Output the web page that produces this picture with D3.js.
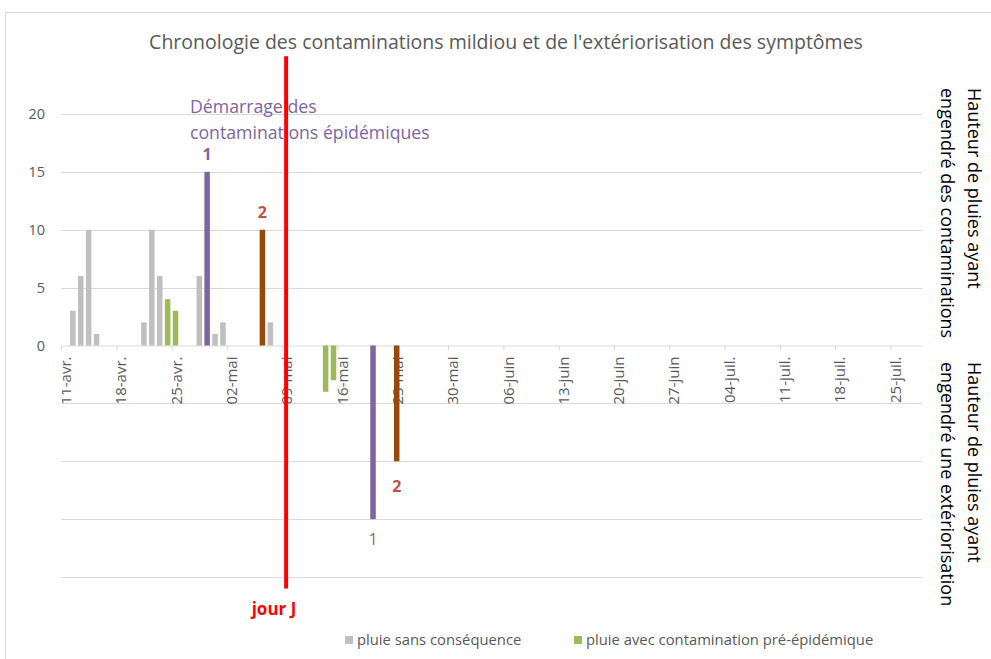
<!DOCTYPE html>
<html>
<head>
<meta charset="utf-8">
<script src="https://cdn.jsdelivr.net/npm/d3@7"></script>
<style>
  body { margin: 0; background: #fff; }
  svg { font-family: "Open Sans", sans-serif; }
</style>
</head>
<body>
<svg id="chart" width="991" height="659"></svg>
<script>
// rain events (mm) - positive = rain that caused a contamination, negative = rain that triggered the symptoms
var greyDates = ["2021-04-12", "2021-04-13", "2021-04-14", "2021-04-15", "2021-04-21", "2021-04-22", "2021-04-23", "2021-04-28", "2021-04-30", "2021-05-01", "2021-05-07"];
var greyValues = [3, 6, 10, 1, 2, 10, 6, 6, 1, 2, 2];
var greenDates = ["2021-04-24", "2021-04-25"];
var greenValues = [4, 3];
var greenExtDates = ["2021-05-14", "2021-05-15"];
var greenExtValues = [-4, -3];
var epiLabels = ["1", "2"];
var epiDates = ["2021-04-29", "2021-05-06"];
var epiValues = [15, 10];
var extDates = ["2021-05-20", "2021-05-23"];
var extValues = [-15, -10];
var jourJDate = "2021-05-09";
var jourJRange = [25, -21];
var tickLabels = ["11-avr.", "18-avr.", "25-avr.", "02-mai", "09-mai", "16-mai", "23-mai", "30-mai", "06-juin", "13-juin", "20-juin", "27-juin", "04-juil.", "11-juil.", "18-juil.", "25-juil."];
var yTicks = [0, 5, 10, 15, 20];
var yGrid = [-20, -15, -10, -5, 5, 10, 15, 20];

var parse = d3.timeParse("%Y-%m-%d");
var start = parse("2021-04-11");
var end = parse("2021-07-29");

var svg = d3.select("#chart");

var x = d3.scaleTime().domain([start, end]).range([61, 922]);
var y = d3.scaleLinear().domain([-20, 20]).range([577, 114]);
var dayW = x(d3.timeDay.offset(start, 1)) - x(start);
var barW = 5.5;

var grey = "#BFBFBF", green = "#9BBB59", purple = "#8064A2", brown = "#984807";
var epiColors = [purple, brown];
var labelColors = [purple, "#C0504D"];

// chart frame
svg.append("rect")
  .attr("x", 5.5).attr("y", 12.5)
  .attr("width", 1000).attr("height", 700)
  .attr("fill", "none").attr("stroke", "#D9D9D9");

// title
svg.append("text")
  .attr("x", 506).attr("y", 49)
  .attr("text-anchor", "middle")
  .attr("fill", "#595959")
  .style("font-size", "19.5px")
  .text("Chronologie des contaminations mildiou et de l'extériorisation des symptômes");

// gridlines
svg.append("g").selectAll("line")
  .data(yGrid).enter().append("line")
  .attr("x1", 61).attr("x2", 922)
  .attr("y1", function (d) { return Math.round(y(d)) + 0.5; })
  .attr("y2", function (d) { return Math.round(y(d)) + 0.5; })
  .attr("stroke", "#D9D9D9");

// y labels
svg.append("g").selectAll("text")
  .data(yTicks).enter().append("text")
  .attr("x", 45)
  .attr("y", function (d) { return y(d); })
  .attr("dy", "0.35em")
  .attr("text-anchor", "end")
  .attr("fill", "#595959")
  .style("font-size", "14.5px")
  .text(function (d) { return d; });

// x axis (line + tick marks)
var tickDates = tickLabels.map(function (t, i) { return d3.timeDay.offset(start, 7 * i); });
var xAxis = d3.axisBottom(x)
  .tickValues(tickDates)
  .tickFormat("")
  .tickSize(5)
  .tickSizeOuter(0);

var gx = svg.append("g")
  .attr("transform", "translate(0," + y(0) + ")")
  .call(xAxis);
gx.select(".domain").attr("stroke", "#D9D9D9");
gx.selectAll(".tick line").attr("stroke", "#D9D9D9");

// x labels, rotated, clipped at the plot's left edge
svg.append("clipPath").attr("id", "lblclip")
  .append("rect").attr("x", 62).attr("y", 340).attr("width", 870).attr("height", 70);
svg.append("g")
  .attr("clip-path", "url(#lblclip)")
  .selectAll("text")
  .data(tickDates).enter().append("text")
  .attr("transform", function (d) { return "translate(" + (x(d) + dayW / 2 + 1) + "," + (y(0) + 11) + ") rotate(-90)"; })
  .attr("dy", "0.35em")
  .attr("text-anchor", "end")
  .attr("fill", "#595959")
  .style("font-size", "15px")
  .text(function (d, i) { return tickLabels[i]; });

function drawBars(dates, values, colorOf) {
  svg.append("g").selectAll("rect")
    .data(values).enter().append("rect")
    .attr("x", function (d, i) { return x(parse(dates[i])) + dayW / 2 - barW / 2; })
    .attr("y", function (d) { return d >= 0 ? y(d) : y(0); })
    .attr("width", barW)
    .attr("height", function (d) { return Math.abs(y(d) - y(0)); })
    .attr("fill", function (d, i) { return colorOf(i); });
}

drawBars(greyDates, greyValues, function () { return grey; });
drawBars(greenDates, greenValues, function () { return green; });
drawBars(greenExtDates, greenExtValues, function () { return green; });
drawBars(epiDates, epiValues, function (i) { return epiColors[i]; });
drawBars(extDates, extValues, function (i) { return epiColors[i]; });

// numbered labels
svg.append("g").selectAll("text")
  .data(epiValues).enter().append("text")
  .attr("x", function (d, i) { return x(parse(epiDates[i])) + dayW / 2; })
  .attr("y", function (d) { return y(d) - 12; })
  .attr("text-anchor", "middle")
  .attr("fill", function (d, i) { return labelColors[i]; })
  .style("font-size", "16px")
  .style("font-weight", "bold")
  .text(function (d, i) { return epiLabels[i]; });

var lowDy = [26, 31];
svg.append("g").selectAll("text")
  .data(extValues).enter().append("text")
  .attr("x", function (d, i) { return x(parse(extDates[i])) + dayW / 2; })
  .attr("y", function (d, i) { return y(d) + lowDy[i]; })
  .attr("text-anchor", "middle")
  .attr("fill", function (d, i) { return labelColors[i]; })
  .style("font-size", "16px")
  .style("font-weight", function (d, i) { return i === 0 ? "normal" : "bold"; })
  .text(function (d, i) { return epiLabels[i]; });

// annotation
var note = svg.append("text")
  .attr("x", 190).attr("y", 113)
  .attr("fill", purple)
  .style("font-size", "17.7px");
note.append("tspan").attr("x", 190).text("Démarrage des");
note.append("tspan").attr("x", 190).attr("dy", 26).text("contaminations épidémiques");

// right axis titles
function sideTitle(lines, top) {
  var t = svg.append("text")
    .attr("transform", "translate(968," + top + ") rotate(90)")
    .attr("fill", "#000")
    .style("font-size", "18px");
  lines.forEach(function (l, i) {
    t.append("tspan").attr("x", 0).attr("y", i * 27).text(l);
  });
}
sideTitle(["Hauteur de pluies ayant", "engendré des contaminations"], 88);
sideTitle(["Hauteur de pluies ayant", "engendré une extériorisation"], 362);

// jour J
var jx = x(parse(jourJDate)) + dayW / 2;
svg.append("line")
  .attr("x1", jx).attr("x2", jx)
  .attr("y1", y(jourJRange[0])).attr("y2", y(jourJRange[1]))
  .attr("stroke", "#FF0000")
  .attr("stroke-width", 4);
svg.append("text")
  .attr("x", 274).attr("y", 615)
  .attr("text-anchor", "middle")
  .attr("fill", "#FF0000")
  .style("font-size", "17px")
  .style("font-weight", "bold")
  .text("jour J");

// legend
var legendItems = ["pluie sans conséquence", "pluie avec contamination pré-épidémique"];
var legendColors = [grey, green];
var legendX = [345, 574];
var lg = svg.append("g").selectAll("g")
  .data(legendItems).enter().append("g")
  .attr("transform", function (d, i) { return "translate(" + legendX[i] + ",636)"; });
lg.append("rect").attr("width", 8).attr("height", 8)
  .attr("fill", function (d, i) { return legendColors[i]; });
lg.append("text")
  .attr("x", 12).attr("y", 4).attr("dy", "0.35em")
  .attr("fill", "#595959")
  .style("font-size", "14.8px")
  .text(function (d) { return d; });
</script>
</body>
</html>
